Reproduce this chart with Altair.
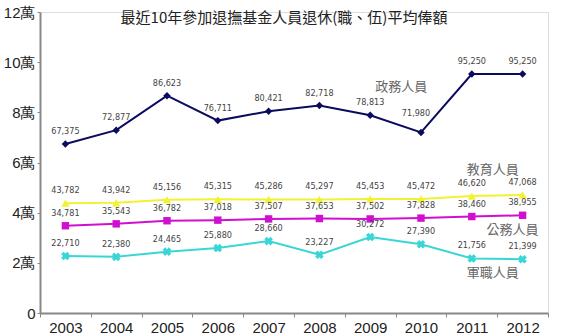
import altair as alt
import pandas as pd

years = ["2003", "2004", "2005", "2006", "2007", "2008", "2009", "2010", "2011", "2012"]
series_names = ["政務人員", "教育人員", "公務人員", "軍職人員"]
zhengwu = [67375, 72877, 86623, 76711, 80421, 82718, 78813, 71980, 95250, 95250]
jiaoyu = [43782, 43942, 45156, 45315, 45286, 45297, 45453, 45472, 46620, 47068]
gongwu = [34781, 35543, 36782, 37018, 37507, 37653, 37502, 37828, 38460, 38955]
junzhi = [22710, 22380, 24465, 25880, 28660, 23227, 30272, 27390, 21756, 21399]
title_text = "最近10年參加退撫基金人員退休(職、伍)平均俸額"

values = [zhengwu, jiaoyu, gongwu, junzhi]
colors = ["#0a0a5e", "#f2f232", "#d010d0", "#3ad6d6"]
shapes = ["diamond", "triangle-up", "square", "cross"]
sizes = [55, 70, 55, 75]
angles = [0, 0, 0, 45]

# series name annotations: (year, value, dx)
name_pos = [("2009", 90100, 31), ("2011", 57000, 21), ("2012", 33100, -10), ("2011", 15900, 21)]

x_enc = alt.X("year:O", scale=alt.Scale(type="band", domain=years, paddingInner=0, paddingOuter=0),
              axis=alt.Axis(title=None, labelAngle=0, labelFontSize=15, labelFont="Liberation Sans",
                            labelColor="#222", tickBand="extent", tickSize=4, tickColor="#888",
                            domainColor="#888", domainWidth=2, labelPadding=3))
y_enc = alt.Y("value:Q", scale=alt.Scale(domain=[0, 120000], nice=False),
              axis=alt.Axis(title=None, values=list(range(0, 120001, 20000)), grid=False,
                            labelExpr="datum.value == 0 ? '0' : (datum.value / 10000) + '萬'",
                            labelFontSize=15, labelFont="Liberation Sans", labelColor="#222",
                            tickSize=3, tickColor="#888", domainColor="#888", domainWidth=2,
                            labelPadding=2))

label_font = "'Liberation Sans Narrow', 'DejaVu Sans Condensed', 'Liberation Sans'"

layers = []
for i, name in enumerate(series_names):
    df = pd.DataFrame({"year": years, "value": values[i], "series": name})
    base = alt.Chart(df).encode(x=x_enc, y=y_enc)
    layers.append(base.mark_line(color=colors[i], strokeWidth=2))
    layers.append(base.mark_point(shape=shapes[i], filled=True, color=colors[i], size=sizes[i],
                                  angle=angles[i], opacity=1))
    txt = alt.Text("value:Q", format=",d")
    if i == 0:
        layers.append(base.mark_text(dy=-13, fontSize=9, color="#444", font=label_font)
                      .encode(text=txt).transform_filter("datum.year != '2010'"))
        layers.append(base.mark_text(dy=-19, dx=-5, fontSize=9, color="#444", font=label_font)
                      .encode(text=txt).transform_filter("datum.year == '2010'"))
    else:
        layers.append(base.mark_text(dy=-13, fontSize=9, color="#444", font=label_font)
                      .encode(text=txt))

for i, name in enumerate(series_names):
    yr, val, dx = name_pos[i]
    adf = pd.DataFrame({"year": [yr], "value": [val], "label": [name]})
    layers.append(alt.Chart(adf).mark_text(dx=dx, fontSize=13, color="#666", font="Noto Sans CJK TC")
                  .encode(x=alt.X("year:O", scale=alt.Scale(type="band", domain=years)),
                          y=alt.Y("value:Q"), text="label:N"))

chart = alt.layer(*layers).properties(
    width=508, height=301,
    autosize=alt.AutoSizeParams(type="none"),
    padding={"left": 40, "top": 12, "right": 15, "bottom": 23},
    title=alt.TitleParams(title_text, font="Noto Sans CJK TC", fontSize=15, fontWeight="normal",
                          color="#222", anchor="middle", frame="group", offset=-21, dx=-10),
).configure_view(stroke="#888", strokeWidth=2).configure(background="white")

chart.save("out.html", embed_options={"renderer": "svg", "actions": False})
